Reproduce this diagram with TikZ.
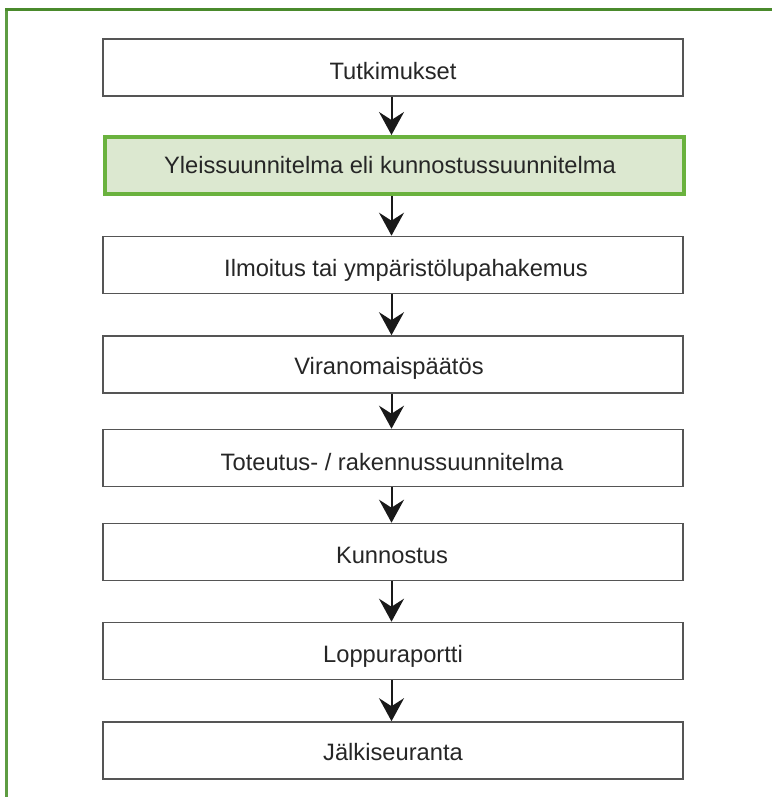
\documentclass[tikz,border=0pt]{standalone}
\usepackage{fontspec}
\setmainfont{Liberation Sans}
\usetikzlibrary{arrows.meta}
\definecolor{frameA}{HTML}{4A8A2C}
\definecolor{frameB}{HTML}{5E9C42}
\definecolor{boxline}{HTML}{555555}
\definecolor{gline}{HTML}{6AB23E}
\definecolor{gfill}{HTML}{DCE8D0}
\begin{document}
\begin{tikzpicture}[x=1pt,y=-1pt,
  stepbox/.style={draw=boxline,line width=1.6pt,fill=white,minimum width=580pt,minimum height=57pt,inner sep=0pt},
  greenbox/.style={draw=gline,line width=4pt,fill=gfill,minimum width=579pt,minimum height=57pt,inner sep=0pt},
  lbl/.style={font=\fontsize{23.7}{28}\selectfont,text=black!85,text height=17pt,text depth=0pt,inner sep=0pt},
  flow/.style={line width=2pt,draw=black!90,-{Stealth[length=23pt,width=25pt,inset=8pt]}}]
\useasboundingbox (0,0) rectangle (772,797);
\draw[frameB,line width=3pt] (6.5,9) -- (6.5,797);
\draw[frameA,line width=3pt] (5,9.5) -- (772,9.5);
\node[stepbox] (b1) at (393,67.5) {};
\node[greenbox] (b2) at (394.5,165.5) {};
\node[stepbox] (b3) at (393,265) {};
\node[stepbox] (b4) at (393,364.5) {};
\node[stepbox] (b5) at (393,458) {};
\node[stepbox] (b6) at (393,552) {};
\node[stepbox] (b7) at (393,651) {};
\node[stepbox] (b8) at (393,750.5) {};
\node[lbl] (t1) at (393,71) {Tutkimukset};
\node[lbl] (t2) at (390,165) {Yleissuunnitelma eli kunnostussuunnitelma};
\node[lbl] (t3) at (406,268) {Ilmoitus tai ympäristölupahakemus};
\node[lbl] (t4) at (389,366) {Viranomaispäätös};
\node[lbl] (t5) at (392,462) {Toteutus- / rakennussuunnitelma};
\node[lbl] (t6) at (392,555) {Kunnostus};
\node[lbl] (t7) at (393,654) {Loppuraportti};
\node[lbl] (t8) at (393,752) {Jälkiseuranta};
\foreach \a/\b in {b1/b2,b2/b3,b3/b4,b4/b5,b5/b6,b6/b7,b7/b8}
  \draw[flow] (\a.south -| 391.5,0) -- (\b.north -| 391.5,0);
\end{tikzpicture}
\end{document}
